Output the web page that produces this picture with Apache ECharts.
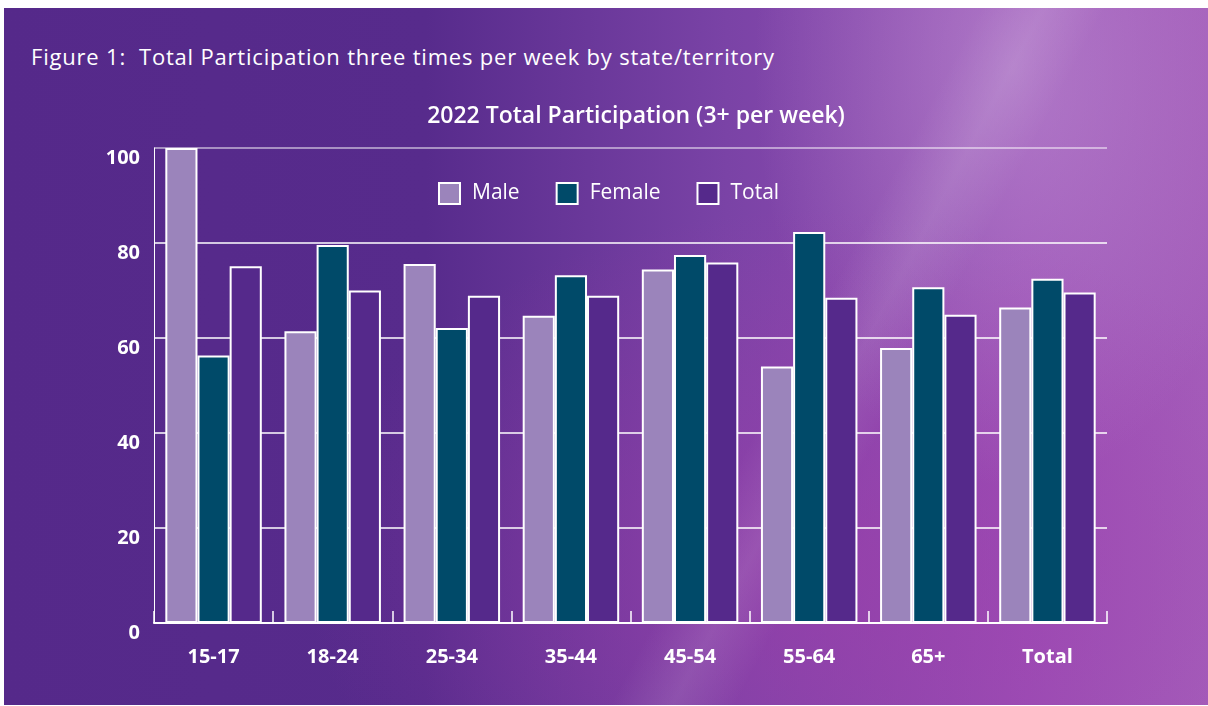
<!DOCTYPE html>
<html>
<head>
<meta charset="utf-8">
<script src="https://cdn.jsdelivr.net/npm/echarts@6/dist/echarts.min.js"></script>
<style>
  html, body { margin: 0; padding: 0; background: #fff; }
  .bg {
    position: absolute; left: 4px; top: 8px; width: 1204px; height: 697px;
    background:
      linear-gradient(118deg, rgba(255,255,255,0) 62%, rgba(255,255,255,0.10) 66%, rgba(255,255,255,0) 70%),
      radial-gradient(ellipse 260px 420px at 1010px 60px, rgba(200,170,220,0.45), rgba(200,170,220,0) 100%),
      radial-gradient(ellipse 520px 360px at 820px 560px, rgba(160,60,170,0.55), rgba(160,60,170,0) 100%),
      linear-gradient(90deg, #55298a 0%, #572b8c 35%, #7a43a6 60%, #9b4fb6 85%, #a45dba 100%);
  }
  .title {
    position: absolute; left: 31px; top: 41px; color: #fff;
    font-family: "Open Sans", sans-serif; font-size: 22px; letter-spacing: 0.8px;
  }
  #main { position: absolute; left: 0; top: 0; width: 1208px; height: 706px; }
</style>
</head>
<body>
<div class="bg"></div>
<div class="title">Figure 1:&nbsp; Total Participation three times per week by state/territory</div>
<div id="main"></div>
<script>
// 数据
var categories = ['15-17', '18-24', '25-34', '35-44', '45-54', '55-64', '65+', 'Total'];
var maleValues = [100, 61.4, 75.6, 64.7, 74.4, 54.0, 57.9, 66.4];
var femaleValues = [56.3, 79.6, 62.1, 73.2, 77.5, 82.3, 70.7, 72.5];
var totalValues = [75.1, 70.0, 68.9, 68.9, 75.9, 68.5, 64.9, 69.6];
var yTicks = [0, 20, 40, 60, 80, 100];

var myChart = echarts.init(document.getElementById('main'));
var font = '"Open Sans", sans-serif';

function barSeries(name, data, color) {
  return {
    name: name,
    type: 'bar',
    data: data,
    barGap: '0%',
    barCategoryGap: '19%',
    itemStyle: {color: color, borderColor: '#fff', borderWidth: 2}
  };
}

myChart.setOption({
  backgroundColor: 'transparent',
  animation: false,
  title: {
    text: '2022 Total Participation (3+ per week)',
    left: 631,
    textAlign: 'center',
    top: 100,
    textStyle: {color: '#fff', fontFamily: font, fontSize: 23, fontWeight: 600}
  },
  legend: {
    left: 438,
    top: 182,
    padding: 0,
    itemWidth: 21,
    itemHeight: 21,
    itemGap: 36,
    icon: 'rect',
    textStyle: {color: '#fff', fontFamily: font, fontSize: 21, fontWeight: 500, padding: [0, 0, 0, 7]}
  },
  grid: {left: 154, right: 101, top: 148, bottom: 83},
  xAxis: {
    type: 'category',
    data: categories,
    axisLine: {lineStyle: {color: '#fff', width: 2}},
    axisTick: {show: true, inside: true, length: 12, interval: 0, lineStyle: {color: '#fff', width: 1.5}},
    axisLabel: {color: '#fff', fontFamily: font, fontSize: 20, fontWeight: 'bold', margin: 24}
  },
  yAxis: {
    type: 'value',
    min: yTicks[0],
    max: yTicks[yTicks.length - 1],
    interval: 20,
    axisLine: {show: true, lineStyle: {color: '#fff', width: 1}},
    axisTick: {show: false},
    axisLabel: {color: '#fff', fontFamily: font, fontSize: 20, fontWeight: 'bold', margin: 14, verticalAlign: 'top'},
    splitLine: {
      show: true,
      lineStyle: {color: ['#fff', '#fff', '#fff', '#fff', '#fff', 'rgba(255,255,255,0.65)'], width: 1.5}
    }
  },
  series: [
    barSeries('Male', maleValues, '#9b84bb'),
    barSeries('Female', femaleValues, '#004a69'),
    barSeries('Total', totalValues, '#55298b')
  ]
});
</script>
</body>
</html>
